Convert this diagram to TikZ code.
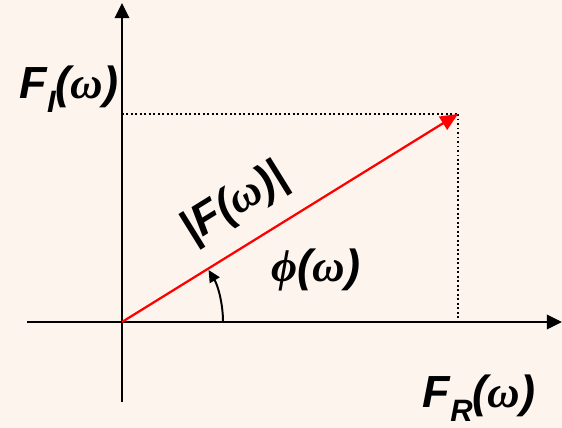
\documentclass[tikz,border=0pt]{standalone}
\usepackage{fontspec}
\setmainfont{Liberation Sans}
\newfontfamily\omegafont{Liberation Serif}
\usetikzlibrary{arrows.meta}
\usepackage{xcolor}
\definecolor{PhasorBg}{RGB}{253,244,238}
\definecolor{PhasorRed}{RGB}{255,0,0}

\newcommand{\om}{{\omegafont\bfseries\itshape ω}}

\begin{document}
\begin{tikzpicture}[
x=0.025cm,y=-0.025cm,
axis/.style={-{Triangle[length=3.8mm,width=3.6mm]},line width=1.8pt,draw=black},
vec/.style={-{Triangle[length=4.4mm,width=3.8mm]},line width=1.6pt,draw=PhasorRed},
guide/.style={dotted,line width=1.2pt,draw=black},
anglearrow/.style={-{Triangle[length=3mm,width=2.8mm]},line width=1.4pt,draw=black},
lbl/.style={font=\fontsize{32}{37}\selectfont\bfseries\itshape,inner sep=0pt}
]

\fill[PhasorBg] (0,0) rectangle (562,428);
\useasboundingbox (0,0) rectangle (562,428);

% axes
\coordinate (O) at (122,322);
\coordinate (xstart) at (27,322);
\coordinate (xend) at (562,322);
\coordinate (ystart) at (122,402);
\coordinate (yend) at (122,3);
\draw[axis] (xstart)--(xend);
\draw[axis] (ystart)--(yend);

% phasor and its projections
\coordinate (P) at (458,114);
\coordinate (Pi) at (122,114);
\coordinate (Pr) at (458,322);
\draw[guide] (Pi)--(P);
\draw[guide] (P)--(Pr);
\draw[vec] (O)--(P);

% angle
\coordinate (A) at (223,322);
\draw[anglearrow] (A) arc[start angle=0,end angle=-31,radius=101];

% labels
\node[lbl] (fi) at (69,89) {F\raisebox{-0.3em}{\fontsize{22}{25}\selectfont I}(\om)};
\node[lbl,rotate=31.8] (mag) at (235,204) {|F(\om)|};
\node[lbl] (phi) at (316,270) {{\omegafont\bfseries\itshape ϕ}(\om)};
\node[lbl] (fr) at (479,398) {F\raisebox{-0.3em}{\fontsize{22}{25}\selectfont R}(\om)};

\end{tikzpicture}
\end{document}
